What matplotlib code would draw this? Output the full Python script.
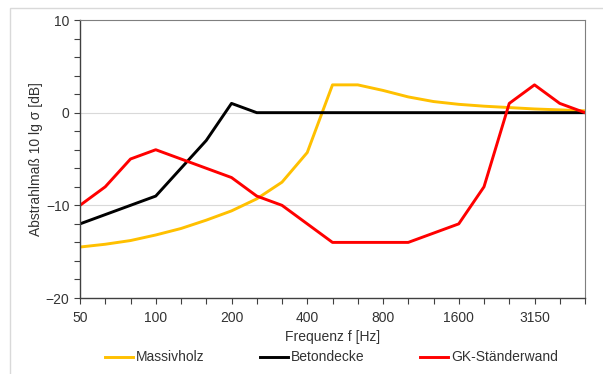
import numpy as np
import matplotlib
matplotlib.use("Agg")
import matplotlib.pyplot as plt
from matplotlib.patches import Rectangle
from matplotlib.lines import Line2D

# third-octave band centre frequencies [Hz]
freqs = [50, 63, 80, 100, 125, 160, 200, 250, 315, 400, 500, 630, 800,
         1000, 1250, 1600, 2000, 2500, 3150, 4000, 5000]
shown_labels = [50, 100, 200, 400, 800, 1600, 3150]

massivholz = [-14.5, -14.2, -13.8, -13.2, -12.5, -11.6, -10.6, -9.3, -7.5,
              -4.3, 3.0, 3.0, 2.4, 1.7, 1.2, 0.9, 0.7, 0.55, 0.4, 0.3, 0.2]
betondecke = [-12, -11, -10, -9, -6, -3, 1, 0, 0, 0, 0, 0, 0, 0, 0, 0, 0,
              0, 0, 0, 0]
gk_staenderwand = [-10, -8, -5, -4, -5, -6, -7, -9, -10, -12, -14, -14, -14,
                   -14, -13, -12, -8, 1, 3, 1, 0]

series = [("Massivholz", massivholz, "#FFC000"),
          ("Betondecke", betondecke, "black"),
          ("GK-Ständerwand", gk_staenderwand, "#FF0000")]

plt.rcParams["font.family"] = ["Liberation Sans", "DejaVu Sans"]

W, H = 603, 374
fig = plt.figure(figsize=(W / 100, H / 100), dpi=100)
# outer chart frame
fig.patches.append(Rectangle((10 / W, -0.01), 1.0, 1 - 8 / H + 0.01,
                             transform=fig.transFigure, fill=False,
                             edgecolor="#d9d9d9", linewidth=1.0))

ax = fig.add_axes([80 / W, 1 - 298 / H, (585 - 80) / W, (298 - 20) / H])
x = np.arange(len(freqs))

ax.axhline(0, color="#d9d9d9", linewidth=0.8, zorder=0)
ax.axhline(-10, color="#d9d9d9", linewidth=0.8, zorder=0)

for name, vals, col in series:
    ax.plot(x, vals, color=col, linewidth=2.1, label=name)

ax.set_xlim(0, len(freqs) - 1)
ax.set_ylim(-20, 10)
ax.set_xticks(x)
ax.set_xticklabels([str(f) if f in shown_labels else "" for f in freqs])
ax.set_yticks([-20, -10, 0, 10])
ax.set_yticks(np.arange(-20, 11, 2), minor=True)
ax.tick_params(axis="both", direction="out", length=4, width=0.8,
               color="#404040", labelsize=10, labelcolor="#333333")
ax.tick_params(axis="y", which="minor", direction="out", length=4,
               width=0.8, color="#404040")
ax.tick_params(axis="x", pad=5)

for side in ("left", "bottom"):
    ax.spines[side].set_color("#404040")
    ax.spines[side].set_linewidth(1.0)
for side in ("top", "right"):
    ax.spines[side].set_color("#7f7f7f")
    ax.spines[side].set_linewidth(0.8)

ax.set_xlabel("Frequenz f [Hz]", fontsize=10, color="#333333", labelpad=4)
ax.set_ylabel("Abstrahlmaß 10 lg σ [dB]", fontsize=10, color="#333333",
              labelpad=2)

# legend laid out like the original: evenly spaced entries below the plot
legend_x = [105, 260, 420]
ly = 1 - 357 / H
for (name, vals, col), lx in zip(series, legend_x):
    fig.lines.append(Line2D([lx / W, (lx + 28) / W], [ly, ly], color=col,
                            linewidth=2.1, transform=fig.transFigure))
    fig.text((lx + 31) / W, ly, name, fontsize=10, color="#333333",
             ha="left", va="center")

fig.savefig("out.png", dpi=100)
